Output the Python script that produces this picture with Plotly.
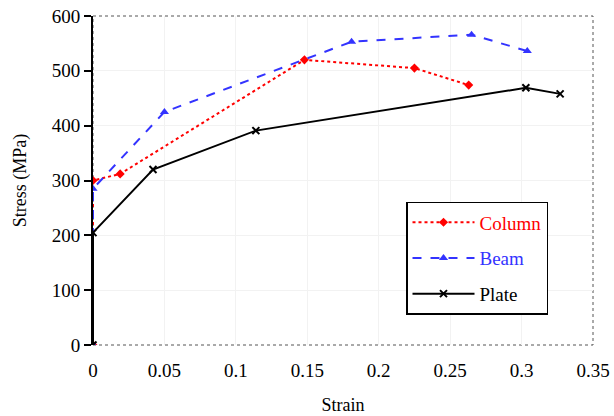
import plotly.graph_objects as go

col_x = [0, 0, 0.019, 0.148, 0.225, 0.263]
col_y = [0, 300, 312, 520, 505, 474]
beam_x = [0, 0, 0.05, 0.181, 0.265, 0.304]
beam_y = [0, 285, 425, 553, 566, 536]
plate_x = [0, 0, 0.042, 0.114, 0.303, 0.327]
plate_y = [0, 205, 320, 391, 469, 458]

x_ticks = [0, 0.05, 0.1, 0.15, 0.2, 0.25, 0.3, 0.35]
x_tick_text = ["0", "0.05", "0.1", "0.15", "0.2", "0.25", "0.3", "0.35"]
y_ticks = [0, 100, 200, 300, 400, 500, 600]

FONT = "Liberation Serif"

fig = go.Figure()
fig.add_trace(go.Scatter(x=col_x, y=col_y, mode="lines+markers", legendgroup="a",
                         name="<span style='color:#ff0000'>Column</span>",
                         line=dict(color="#ff0000", width=2, dash="dot"),
                         marker=dict(symbol="diamond", size=7, color="#ff0000")))
fig.add_trace(go.Scatter(x=beam_x, y=beam_y, mode="lines+markers", legendgroup="b",
                         name="<span style='color:#3333ff'>Beam</span>",
                         line=dict(color="#3333ff", width=2, dash="dash"),
                         marker=dict(symbol="triangle-up", size=8, color="#3333ff")))
fig.add_trace(go.Scatter(x=plate_x, y=plate_y, mode="lines+markers", legendgroup="c",
                         name="<span style='color:#000000'>Plate</span>",
                         line=dict(color="#000000", width=2),
                         marker=dict(symbol="x-thin", size=7, color="#000000",
                                     line=dict(width=2, color="#000000"))))

fig.add_shape(type="rect", xref="paper", yref="paper", x0=0, y0=0, x1=1, y1=1,
              line=dict(color="#555555", width=1, dash="dot"), layer="below")

tick_font = dict(family=FONT, size=19, color="black")

fig.update_layout(
    width=614, height=416,
    margin=dict(l=93, r=21, t=16, b=71),
    paper_bgcolor="white", plot_bgcolor="white",
    font=dict(family=FONT, size=18, color="black"),
    showlegend=True,
    legend=dict(x=0.626, y=0.435, xanchor="left", yanchor="top",
                bordercolor="black", borderwidth=1.5, bgcolor="white",
                font=dict(family=FONT, size=19), tracegroupgap=8,
                traceorder="grouped", itemwidth=62),
    xaxis=dict(range=[0, 0.35], tickvals=x_ticks, ticktext=x_tick_text,
               tickfont=tick_font, ticklabelstandoff=12, automargin=False,
               showgrid=True, gridcolor="#f2f2f2", zeroline=False, showline=False,
               ticks="", title=dict(text="Strain", font=dict(family=FONT, size=18), standoff=18)),
    yaxis=dict(range=[0, 600], tickvals=y_ticks, tickfont=tick_font, automargin=False,
               showgrid=True, gridcolor="#f2f2f2", zeroline=False,
               showline=True, linecolor="black", linewidth=2,
               ticks="outside", ticklen=7, tickcolor="black", tickwidth=1.5,
               title=dict(text="Stress (MPa)", font=dict(family=FONT, size=18), standoff=20)),
)

fig.write_html("out.html")
